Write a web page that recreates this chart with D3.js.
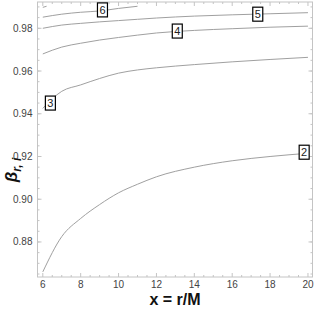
<!DOCTYPE html>
<html>
<head>
<meta charset="utf-8">
<script src="https://cdn.jsdelivr.net/npm/d3@7"></script>
<style>
  body { margin: 0; background: #fff; }
  text { font-family: "Liberation Sans", Arial, sans-serif; }
</style>
</head>
<body>
<div class="chart"></div>
<script>
// values
var xs = [6, 7, 8, 9, 10, 11, 12, 14, 16, 18, 20];
var beta2 = [0.8660, 0.8825, 0.8910, 0.8975, 0.9030, 0.9070, 0.9105, 0.9150, 0.9180, 0.9200, 0.9215];
var beta3 = [0.9425, 0.9505, 0.9535, 0.9565, 0.9590, 0.9605, 0.9615, 0.9630, 0.9643, 0.9654, 0.9664];
var beta4 = [0.9680, 0.9712, 0.9730, 0.9745, 0.9757, 0.9768, 0.9778, 0.9790, 0.9798, 0.9805, 0.9810];
var beta5 = [0.9800, 0.9815, 0.9823, 0.9830, 0.9836, 0.9842, 0.9848, 0.9857, 0.9863, 0.9868, 0.9873];
var xs6 = [6, 7, 8, 9, 10, 11];
var beta6 = [0.9852, 0.9866, 0.9875, 0.9881, 0.9893, 0.9903];
var xs7 = [6, 6.2];
var beta7 = [0.9898, 0.9903];
var xTicks = [6, 8, 10, 12, 14, 16, 18, 20];
var yTicks = [0.88, 0.90, 0.92, 0.94, 0.96, 0.98];

// label positions (x, beta) for the boxed curve numbers
var labelNames = ['2', '3', '4', '5', '6'];
var labelX = [19.8, 6.4, 13.1, 17.35, 9.15];
var labelY = [0.9220, 0.9450, 0.9787, 0.9866, 0.9886];

var W = 315, H = 309;
var margin = { top: 2, right: 2.5, bottom: 32, left: 37.5 };
var width = W - margin.left - margin.right;
var height = H - margin.top - margin.bottom;

var svg = d3.select('.chart')
  .append('svg')
    .attr('width', W)
    .attr('height', H);

var g = svg.append('g')
    .attr('transform', `translate(${margin.left}, ${margin.top})`);

var xScale = d3.scaleLinear().domain([5.72, 20.24]).range([0, width]);
var yScale = d3.scaleLinear().domain([0.8636, 0.9923]).range([height, 0]);

var series = [
  { x: xs, y: beta2 },
  { x: xs, y: beta3 },
  { x: xs, y: beta4 },
  { x: xs, y: beta5 },
  { x: xs6, y: beta6 },
  { x: xs7, y: beta7 }
];

var line = d3.line()
  .x(d => xScale(d[0]))
  .y(d => yScale(d[1]))
  .curve(d3.curveMonotoneX);

g.selectAll('.curve')
  .data(series)
  .enter()
  .append('path')
  .attr('class', 'curve')
  .attr('d', s => line(s.x.map((x, i) => [x, s.y[i]])))
  .style('fill', 'none')
  .style('stroke', '#a0a0a0')
  .style('stroke-width', 1);

// frame with inward ticks on all four sides
var frameColor = '#c4c4c4';
var xMinor = d3.range(6, 20.01, 0.5).filter(v => xTicks.indexOf(v) < 0);
var yMinor = d3.range(0.865, 0.9901, 0.005);

g.append('rect')
  .attr('width', width).attr('height', height)
  .style('fill', 'none').style('stroke', frameColor).style('stroke-width', 1);

function xTickMarks(vals, len) {
  vals.forEach(function (v) {
    var x = xScale(v);
    g.append('line').attr('x1', x).attr('x2', x).attr('y1', height).attr('y2', height - len)
      .style('stroke', frameColor);
    g.append('line').attr('x1', x).attr('x2', x).attr('y1', 0).attr('y2', len)
      .style('stroke', frameColor);
  });
}
function yTickMarks(vals, len) {
  vals.forEach(function (v) {
    var y = yScale(v);
    g.append('line').attr('x1', 0).attr('x2', len).attr('y1', y).attr('y2', y)
      .style('stroke', frameColor);
    g.append('line').attr('x1', width).attr('x2', width - len).attr('y1', y).attr('y2', y)
      .style('stroke', frameColor);
  });
}
xTickMarks(xTicks, 4);
xTickMarks(xMinor, 2);
yTickMarks(yTicks, 4);
yTickMarks(yMinor, 2);

g.selectAll('.xlab')
  .data(xTicks)
  .enter()
  .append('text')
  .attr('x', d => xScale(d))
  .attr('y', height + 11)
  .attr('text-anchor', 'middle')
  .style('font-size', '10px')
  .style('fill', '#444')
  .text(d => d);

g.selectAll('.ylab')
  .data(yTicks)
  .enter()
  .append('text')
  .attr('x', -5)
  .attr('y', d => yScale(d) + 3.5)
  .attr('text-anchor', 'end')
  .style('font-size', '10px')
  .style('fill', '#444')
  .text(d => d3.format('.2f')(d));

// boxed curve labels
var labels = g.selectAll('.lab')
  .data(labelNames)
  .enter()
  .append('g')
  .attr('transform', (d, i) => `translate(${xScale(labelX[i])}, ${yScale(labelY[i])})`);

labels.append('rect')
  .attr('x', -5).attr('y', -7).attr('width', 10).attr('height', 14)
  .style('fill', '#fff').style('stroke', '#000').style('stroke-width', 1.2);

labels.append('text')
  .attr('text-anchor', 'middle')
  .attr('y', 4)
  .style('font-size', '11px')
  .style('fill', '#222')
  .text(d => d);

// axis titles
svg.append('text')
  .attr('x', margin.left + width / 2)
  .attr('y', 305)
  .attr('text-anchor', 'middle')
  .style('font-size', '16px')
  .style('font-weight', 'bold')
  .style('fill', '#111')
  .text('x = r/M');

var yt = svg.append('text')
  .attr('transform', 'translate(17, 170) rotate(-90)')
  .attr('text-anchor', 'middle')
  .style('font-weight', 'bold')
  .style('font-style', 'italic')
  .style('fill', '#111');
yt.append('tspan').style('font-size', '17px').text('β');
yt.append('tspan').style('font-size', '12px').attr('dy', 4).text('r, i');
</script>
</body>
</html>
